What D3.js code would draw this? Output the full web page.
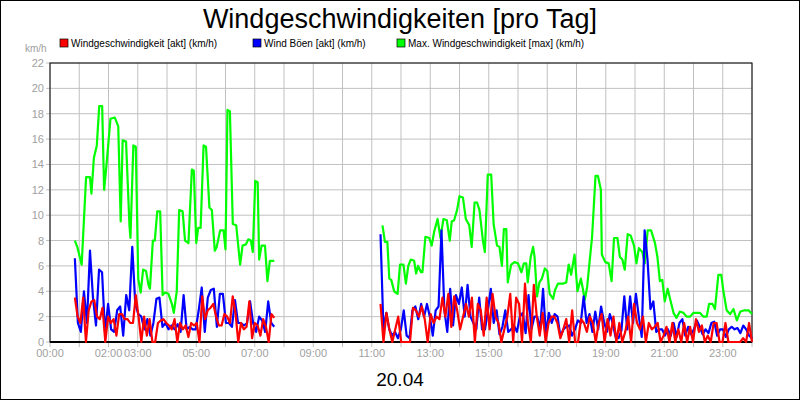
<!DOCTYPE html><html><head><meta charset="utf-8"><script src="https://cdn.jsdelivr.net/npm/d3@7"></script>
<style>body{margin:0;background:#fff}text{font-family:"Liberation Sans",Arial,sans-serif}</style></head><body><svg id="c" width="800" height="400"></svg><script>
const title="Windgeschwindigkeiten [pro Tag]";
const seriesNames=["Windgeschwindigkeit [akt] (km/h)","Wind Böen [akt] (km/h)","Max. Windgeschwindigkeit [max] (km/h)"];
const colors=["#ff0000","#0000ff","#00ff00"];
const xTickHours=[0,2,3,5,7,9,11,13,15,17,19,21,23];
const yTicks=d3.range(0,23,2);
const greenT1=[51,56,65,74,82,85,90,96,101,107,111,116,124,133,140,145,149,156,163,165,171,176,181,186,191,197,202,205,211,215,220,226,231,236,243,250,254,260,265,272,277,284,291,295,300,304,309,315,320,327,332,338,342,349,356,360,364,369,375,382,390,395,402,407,412,416,421,426,429,434,441,446,451,460];
const greenV1=[8.0,7.5,6.1,13.0,13.0,11.7,14.5,15.5,18.6,18.6,12.0,14,17.6,17.7,17.0,9.5,15.9,15.8,9.2,8.2,15.5,15.4,5.0,3.9,5.7,5.6,4.5,4.2,8.0,8.0,10.3,10.3,3.7,3.9,3.8,3.0,2.3,4.0,10.4,10.3,8.0,7.8,13.6,13.5,7.8,9.0,9.0,15.5,15.4,10.6,10.4,7.2,7.5,8.8,8.8,7.3,18.3,18.2,9.3,9.2,6.1,7.6,7.7,8.1,8.0,7.1,12.7,12.6,6.5,7.6,7.6,4.8,6.4,6.4];
const greenT2=[682,687,692,696,700,706,713,718,725,730,735,740,747,751,755,761,764,770,778,783,788,795,801,807,814,820,824,829,835,840,847,853,860,865,871,876,881,888,892,898,905,910,917,922,927,931,936,939,946,953,960,967,972,977,980,986,991,994,999,1004,1009,1015,1020,1025,1032,1036,1042,1052,1059,1064,1069,1076,1082,1089,1093,1097,1102,1107,1112,1119,1124,1130,1132,1139,1146,1152,1157,1164,1169,1174,1179,1185,1191,1198,1203,1208,1215,1220,1226,1233,1241,1246,1251,1256,1261,1267,1272,1279,1285,1292,1299,1306,1313,1320,1326,1333,1340,1347,1352,1359,1364,1371,1377,1381,1388,1395,1402,1409,1416,1425,1433,1440];
const greenV2=[9.2,7.9,7.9,5.0,4.9,4.0,3.8,6.1,6.1,4.6,6.0,6.5,6.4,5.4,6.0,5.5,5.5,8.3,8.2,7.6,8.7,9.7,8.2,9.7,9.6,8.0,9.5,9.6,10.4,11.5,11.4,9.7,9.2,7.5,11.0,11.0,10.4,8.0,7.1,13.2,13.2,9.3,7.6,7.5,6.0,8.9,8.9,4.7,6.1,6.3,6.2,5.5,6.2,6.2,4.7,6.7,7.5,6.7,3.6,4.7,5.0,5.8,5.6,3.8,3.4,4.1,4.6,4.6,4.7,6.1,5.3,6.9,4.0,5.0,4.2,3.3,4.4,6.4,8.3,13.1,13.1,12.0,6.9,6.3,6.2,4.8,8.2,8.2,6.7,6.5,5.7,8.5,8.4,7.6,6.2,7.4,7.1,6.2,8.8,8.8,7.8,6.7,4.8,4.9,3.2,4.2,3.4,2.3,1.9,2.4,2.3,2.0,2.0,2.3,2.3,2.3,2.0,2.0,3.0,3.0,2.6,5.3,5.3,4.1,2.5,2.2,2.6,1.7,2.4,2.5,2.5,2.2];
const blueV1=[6.6,1.5,0.8,4.0,1.5,7.2,3.5,1.3,5.7,5.5,0.7,3.0,1.0,0.8,2.5,2.8,0.5,3.7,2.5,7.5,3.0,2.2,2.0,1.0,1.8,0.5,1.5,3.4,3.5,1.2,1.5,1.0,1.3,1.0,1.4,0.8,3.7,1.0,1.2,1.0,1.0,2.5,4.3,0.8,3.5,4.1,4.2,1.2,3.8,3.8,1.5,1.5,1.2,3.3,1.5,1.5,1.3,1.5,3.2,1.5,0.8,2.0,1.7,0.8,3.2,1.5,1.2];
const redV1=[3.5,2.0,1.5,3.5,0,2.5,3.2,3.3,2.0,1.8,2.7,0,2.0,1.5,1.8,0.5,2.2,2.2,1.8,1.8,1.5,1.5,3.7,2.0,0,2.0,0.5,1.8,0,0,1.5,1.7,1.8,1.5,1.3,1.0,1.8,0,1.5,1.0,1.3,0.4,1.5,1.3,1.5,0,3.6,1.8,2.5,2.7,3.0,2.0,1.3,1.3,2.2,2.0,1.5,3.6,2.3,0,1.5,1.0,1.2,3.2,0.3,1.5,1.3,0.5,1.8,1.2,0,2.2,1.9];
const blueV2=[8.5,1.0,2.3,1.0,0.5,0.8,0.3,1.0,2.5,0.5,0.3,2.5,2.8,1.8,3.0,2.0,3.0,2.0,0.5,2.5,2.8,8.8,2.5,0.8,4.2,1.3,3.7,3.0,4.3,2.0,4.5,2.0,1.5,1.0,3.5,1.0,1.0,2.5,4.2,1.5,2.5,0.6,1.2,2.5,0.8,1.0,1.3,0.8,2.0,2.3,0.7,3.7,1.0,2.0,2.0,1.0,4.2,0.6,2.3,1.5,2.2,2.0,0.4,1.0,1.2,1.3,0.5,1.0,1.7,1.5,3.6,1.5,2.2,0.8,2.4,1.0,2.8,1.6,0.8,2.2,1.5,0.4,0.3,0.9,3.6,1.0,3.6,1.5,3.8,2.0,0.4,8.8,6.5,2.6,3.2,0.8,1.0,1.0,0.5,1.0,0.5,1.5,0.4,1.5,1.8,0.5,1.2,0.6,1.0,1.7,1.2,0.6,1.0,0.7,1.5,1.6,0.5,1.0,1.0,0.4,1.0,1.2,1.0,1.1,0.7,1.3,1.0,0.5,0.3];
const redV2=[3.0,0,2.3,1.0,0,1.0,2.0,0,0,0,0,2.7,2.5,2.0,2.8,1.8,0,2.2,1.5,2.0,1.8,3.5,2.0,3.8,1.2,3.6,2.5,1.0,2.0,3.0,2.0,3.5,0,3.0,2.5,0.5,3.5,1.0,3.8,2.0,1.5,0,1.0,2.0,3.8,0,3.5,3.0,0,4.6,1.5,0,4.5,2.0,0.5,2.3,0,1.5,2.0,2.0,1.5,0.3,1.0,1.8,0,2.5,0,0,1.8,1.5,0.8,2.0,1.5,0,1.5,2.2,0,1.8,0.5,2.0,0,1.5,0,0.8,2.0,0,3.0,1.5,1.0,2.0,0,1.5,1.0,1.2,1.5,0,0.5,1.2,0,1.5,0,1.0,0,1.5,0,1.2,0,1.8,0.8,1.3,0,0.5,0,1.5,1.5,0,0,1.5,0,0,0,0,0,0.3,0,1.5,0];
const seg1=[51,460],seg2=[678,1440];

const svg=d3.select("#c");
svg.append("rect").attr("x",0.5).attr("y",0.5).attr("width",799).attr("height",399).attr("fill","#fff").attr("stroke","#000");
const L=50,R=752,T=63,B=342;
const x=d3.scaleLinear().domain([0,1440]).range([L,R]);
const y=d3.scaleLinear().domain([0,22]).range([B,T]);
svg.append("text").attr("x",400).attr("y",28).attr("text-anchor","middle").attr("font-size",27).text(title);
// grid
svg.append("g").selectAll("line").data(d3.range(0,25)).join("line").attr("x1",d=>x(d*60)).attr("x2",d=>x(d*60)).attr("y1",T).attr("y2",B+5).attr("stroke","#c0c0c0");
svg.append("g").selectAll("line").data(yTicks).join("line").attr("x1",L-4).attr("x2",R).attr("y1",d=>y(d)).attr("y2",d=>y(d)).attr("stroke","#c0c0c0");
svg.append("rect").attr("x",L).attr("y",T).attr("width",R-L).attr("height",B-T).attr("fill","none").attr("stroke","#000");
svg.append("line").attr("x1",L).attr("x2",R).attr("y1",B).attr("y2",B).attr("stroke","#000").attr("stroke-width",2);
svg.append("g").selectAll("text").data(yTicks).join("text").attr("x",L-6).attr("y",d=>y(d)+4).attr("text-anchor","end").attr("font-size",11).attr("fill","#a0a0a0").text(d=>d);
svg.append("g").selectAll("text").data(xTickHours).join("text").attr("x",d=>x(d*60)).attr("y",357).attr("text-anchor","middle").attr("font-size",11).attr("fill","#a0a0a0").text(d=>String(d).padStart(2,"0")+":00");
svg.append("text").attr("x",25).attr("y",52).attr("font-size",10).attr("fill","#a0a0a0").text("km/h");
svg.append("text").attr("x",400).attr("y",386).attr("text-anchor","middle").attr("font-size",19).text("20.04");
// legend
const lx=[60,253,397];
seriesNames.forEach((n,i)=>{
 svg.append("rect").attr("x",lx[i]).attr("y",39).attr("width",8).attr("height",8).attr("fill",colors[i]).attr("stroke","#000").attr("stroke-width",0.7);
 svg.append("text").attr("x",lx[i]+11).attr("y",47).attr("font-size",10).text(n);
});
const line=d3.line().x(d=>x(d[0])).y(d=>y(d[1]));
function stepPts(vals,seg){const s=(seg[1]-seg[0])/(vals.length-1);return vals.map((v,i)=>[seg[0]+i*s,v]);}
const g=svg.append("g").attr("fill","none").attr("stroke-width",2.2).attr("stroke-linejoin","round");
const paths=[
 [greenT1.map((t,i)=>[t,greenV1[i]]),colors[2]],[greenT2.map((t,i)=>[t,greenV2[i]]),colors[2]],
 [stepPts(blueV1,seg1),colors[1]],[stepPts(blueV2,seg2),colors[1]],
 [stepPts(redV1,seg1),colors[0]],[stepPts(redV2,seg2),colors[0]]];
paths.forEach(p=>g.append("path").attr("d",line(p[0])).attr("stroke",p[1]));
</script></body></html>
